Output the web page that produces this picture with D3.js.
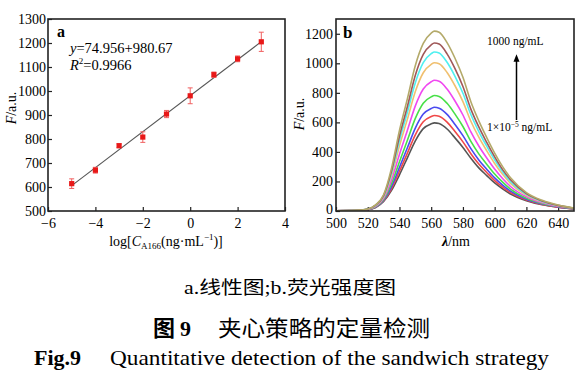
<!DOCTYPE html>
<html><head><meta charset="utf-8">
<script src="https://cdn.jsdelivr.net/npm/d3@7"></script>
<style>
body{margin:0;background:#fff;}
svg{display:block;font-family:"Liberation Serif","Times New Roman",serif;}
</style></head>
<body><svg id="c" width="586" height="378"></svg>
<script>
// ---------- Panel a data ----------
const logConc = [-5,-4,-3,-2,-1,0,1,2,3];
const intensity = [614,670,772,808,904,980,1068,1134,1205];
const errs = [20,12,8,22,15,33,11,12,40];
const fitSlope = 74.956, fitIntercept = 980.67;
const xTicksA = [-6,-4,-2,0,2,4];
const yTicksA = [500,600,700,800,900,1000,1100,1200,1300];

// ---------- Panel b data ----------
const wavelengths = [500,510,515,520,525,530,535,540,545,550,555,560,562,565,570,575,580,585,590,595,600,605,610,620,630,640,650];
const s1 = [2,3,5,9,24,65,140,245,360,475,558,590,597,592,555,495,430,357,292,240,190,150,115,70,42,25,14];
const s2 = [2,3,5,9,25,69,152,269,392,516,604,640,647,642,602,538,468,388,318,261,206,162,124,74,44,26,14];
const s3 = [2,3,5,10,27,73,165,296,428,561,656,694,702,696,654,586,510,422,346,283,224,175,134,79,47,28,15];
const s4 = [2,3,5,11,29,78,185,334,479,627,730,773,782,776,729,656,572,471,387,317,250,195,148,86,51,30,16];
const s5 = [2,3,5,11,32,86,210,384,546,712,826,875,885,879,826,745,650,535,440,359,284,220,166,96,56,32,17];
const s6 = [2,3,6,12,36,95,238,442,622,809,936,993,1004,997,938,848,741,608,500,408,322,248,187,106,62,35,18];
const s7 = [2,3,6,13,38,100,256,477,669,869,1004,1065,1077,1070,1007,912,797,653,538,439,346,266,200,113,65,37,19];
const s8 = [2,3,6,13,40,104,270,506,708,919,1060,1125,1137,1130,1064,964,843,690,569,464,366,280,211,118,68,38,19];
const s9 = [2,3,6,14,42,110,290,545,760,985,1135,1205,1218,1210,1140,1034,905,740,610,497,392,300,225,125,72,40,20];
const seriesB = [s1,s2,s3,s4,s5,s6,s7,s8,s9];
const seriesColors = ["#555555","#f04848","#4a4af0","#48e048","#f048f0","#f0c070","#50f0f0","#a05858","#b4aa6a"];
const xTicksB = [500,520,540,560,580,600,620,640];
const yTicksB = [0,200,400,600,800,1000,1200];

const svg = d3.select("#c");
const tickFont = 14;
const fmt = d3.format("d");

function frame(g, x, y){
  const [x0,x1] = x.range(), [y0,y1] = y.range();
  g.append("rect").attr("x",x0).attr("y",y1).attr("width",x1-x0).attr("height",y0-y1)
    .attr("fill","none").attr("stroke","#222").attr("stroke-width",1.6);
}
function styleAxis(sel){
  sel.select(".domain").remove();
  sel.selectAll(".tick line").attr("stroke","#222").attr("stroke-width",1.2);
  sel.selectAll(".tick text").attr("fill","#000").style("font-size",tickFont+"px")
     .style("font-family","'Liberation Serif',serif");
}

// ---------- Panel a ----------
const xA = d3.scaleLinear().domain([-6,4]).range([48,285]);
const yA = d3.scaleLinear().domain([500,1300]).range([211,19]);
const gA = svg.append("g");
gA.append("g").attr("transform","translate(0,211)")
  .call(d3.axisBottom(xA).tickValues(xTicksA).tickSizeInner(-4).tickSizeOuter(0).tickPadding(7)
        .tickFormat(d => d<0 ? "\u2212"+Math.abs(d) : d))
  .call(styleAxis);
gA.append("g").attr("transform","translate(48,0)")
  .call(d3.axisLeft(yA).tickValues(yTicksA).tickSizeInner(-4).tickSizeOuter(0).tickPadding(2).tickFormat(fmt))
  .call(styleAxis);
frame(gA, xA, yA);
// fit line
gA.append("line").attr("x1",xA(-5)).attr("y1",yA(fitSlope*-5+fitIntercept))
  .attr("x2",xA(3)).attr("y2",yA(fitSlope*3+fitIntercept))
  .attr("stroke","#555").attr("stroke-width",1.1);
// error bars
const eb = gA.append("g").attr("stroke","#f06060").attr("stroke-width",1);
logConc.forEach((c,i)=>{
  const x = xA(c), yt = yA(intensity[i]+errs[i]), yb = yA(intensity[i]-errs[i]);
  eb.append("line").attr("x1",x).attr("x2",x).attr("y1",yt).attr("y2",yb);
  eb.append("line").attr("x1",x-2.5).attr("x2",x+2.5).attr("y1",yt).attr("y2",yt);
  eb.append("line").attr("x1",x-2.5).attr("x2",x+2.5).attr("y1",yb).attr("y2",yb);
});
gA.selectAll("rect.pt").data(logConc).enter().append("rect").attr("class","pt")
  .attr("x",d=>xA(d)-2.6).attr("y",(d,i)=>yA(intensity[i])-2.6)
  .attr("width",5.2).attr("height",5.2).attr("fill","#e81818");
// labels
gA.append("text").attr("x",57).attr("y",37).attr("font-weight","bold").attr("font-size",16).text("a");
const eq = gA.append("text").attr("x",70).attr("y",53).attr("font-size",14.5);
eq.append("tspan").attr("font-style","italic").text("y");
eq.append("tspan").text("=74.956+980.67");
const r2 = gA.append("text").attr("x",70).attr("y",70).attr("font-size",14.5);
r2.append("tspan").attr("font-style","italic").text("R");
r2.append("tspan").attr("font-size",9).attr("dy",-6).text("2");
r2.append("tspan").attr("dy",6).text("=0.9966");
const yla = gA.append("text").attr("transform","translate(16,108) rotate(-90)").attr("text-anchor","middle").attr("font-size",14);
yla.append("tspan").attr("font-style","italic").text("F");
yla.append("tspan").text("/a.u.");
const xla = gA.append("text").attr("x",166).attr("y",246).attr("text-anchor","middle").attr("font-size",14);
xla.append("tspan").text("log[");
xla.append("tspan").attr("font-style","italic").text("C");
xla.append("tspan").attr("font-size",9).attr("dy",3).text("A166");
xla.append("tspan").attr("dy",-3).text("(ng\u00b7mL");
xla.append("tspan").attr("font-size",9).attr("dy",-6).text("\u22121");
xla.append("tspan").attr("dy",6).text(")]");

// ---------- Panel b ----------
const xB = d3.scaleLinear().domain([500,650]).range([336,574]);
const yB = d3.scaleLinear().domain([0,1300]).range([211,19]);
const gB = svg.append("g");
gB.append("g").attr("transform","translate(0,211)")
  .call(d3.axisBottom(xB).tickValues(xTicksB).tickSizeInner(-4).tickSizeOuter(0).tickPadding(7).tickFormat(fmt))
  .call(styleAxis);
gB.append("g").attr("transform","translate(336,0)")
  .call(d3.axisLeft(yB).tickValues(yTicksB).tickSizeInner(-4).tickSizeOuter(0).tickPadding(3).tickFormat(fmt))
  .call(styleAxis);
gB.selectAll(".tick text").filter(d=>d===0).attr("dy","0.15em");
gB.append("defs").append("clipPath").attr("id","clipB").append("rect")
  .attr("x",336).attr("y",19).attr("width",238).attr("height",192);
const line = d3.line().x((d,i)=>xB(wavelengths[i])).y(d=>yB(d)).curve(d3.curveMonotoneX);
gB.append("g").attr("clip-path","url(#clipB)").selectAll("path").data(seriesB).enter().append("path")
  .attr("d",line).attr("fill","none").attr("stroke",(d,i)=>seriesColors[i]).attr("stroke-width",1.6);
frame(gB, xB, yB);
gB.append("text").attr("x",343).attr("y",38).attr("font-weight","bold").attr("font-size",17).text("b");
gB.append("text").attr("x",487).attr("y",45).attr("font-size",11.5).text("1000 ng/mL");
const lo = gB.append("text").attr("x",487).attr("y",131).attr("font-size",11.5);
lo.append("tspan").text("1\u00d710");
lo.append("tspan").attr("font-size",7.5).attr("dy",-4).text("\u22125");
lo.append("tspan").attr("dy",4).text(" ng/mL");
gB.append("defs").append("marker").attr("id","arr").attr("viewBox","0 0 10 10").attr("refX",5).attr("refY",5)
  .attr("markerWidth",5).attr("markerHeight",7).attr("orient","auto")
  .append("path").attr("d","M0,1 L10,5 L0,9 Z").attr("fill","#000");
gB.append("line").attr("x1",516.5).attr("x2",516.5).attr("y1",120).attr("y2",58)
  .attr("stroke","#000").attr("stroke-width",1.5).attr("marker-end","url(#arr)");
const ylb = gB.append("text").attr("transform","translate(304,114) rotate(-90)").attr("text-anchor","middle").attr("font-size",14);
ylb.append("tspan").attr("font-style","italic").text("F");
ylb.append("tspan").text("/a.u.");
const xlb = gB.append("text").attr("x",456).attr("y",246).attr("text-anchor","middle").attr("font-size",14);
xlb.append("tspan").attr("font-style","italic").attr("font-weight","bold").text("\u03bb");
xlb.append("tspan").text("/nm");

// ---------- Captions ----------
svg.append("text").attr("x",290).attr("y",294).attr("text-anchor","middle").attr("font-size",18)
  .attr("font-family","'Liberation Serif','Noto Sans CJK SC',serif")
  .attr("textLength",212).attr("lengthAdjust","spacingAndGlyphs")
  .text("a.线性图;b.荧光强度图");
const c2 = svg.append("g");
c2.append("text").attr("x",153).attr("y",336).attr("font-size",22).attr("font-weight","bold")
  .attr("font-family","'Noto Sans CJK SC',sans-serif").text("图");
c2.append("text").attr("x",180).attr("y",336).attr("font-size",22).attr("font-weight","bold").text("9");
c2.append("text").attr("x",218).attr("y",336).attr("font-size",22)
  .attr("font-family","'Noto Sans CJK SC',serif").attr("textLength",212).attr("lengthAdjust","spacingAndGlyphs")
  .text("夹心策略的定量检测");
svg.append("text").attr("x",34).attr("y",365).attr("font-size",22).attr("font-weight","bold").text("Fig.9");
svg.append("text").attr("x",110).attr("y",365).attr("font-size",22)
  .attr("textLength",439).attr("lengthAdjust","spacingAndGlyphs")
  .text("Quantitative detection of the sandwich strategy");
</script></body></html>
